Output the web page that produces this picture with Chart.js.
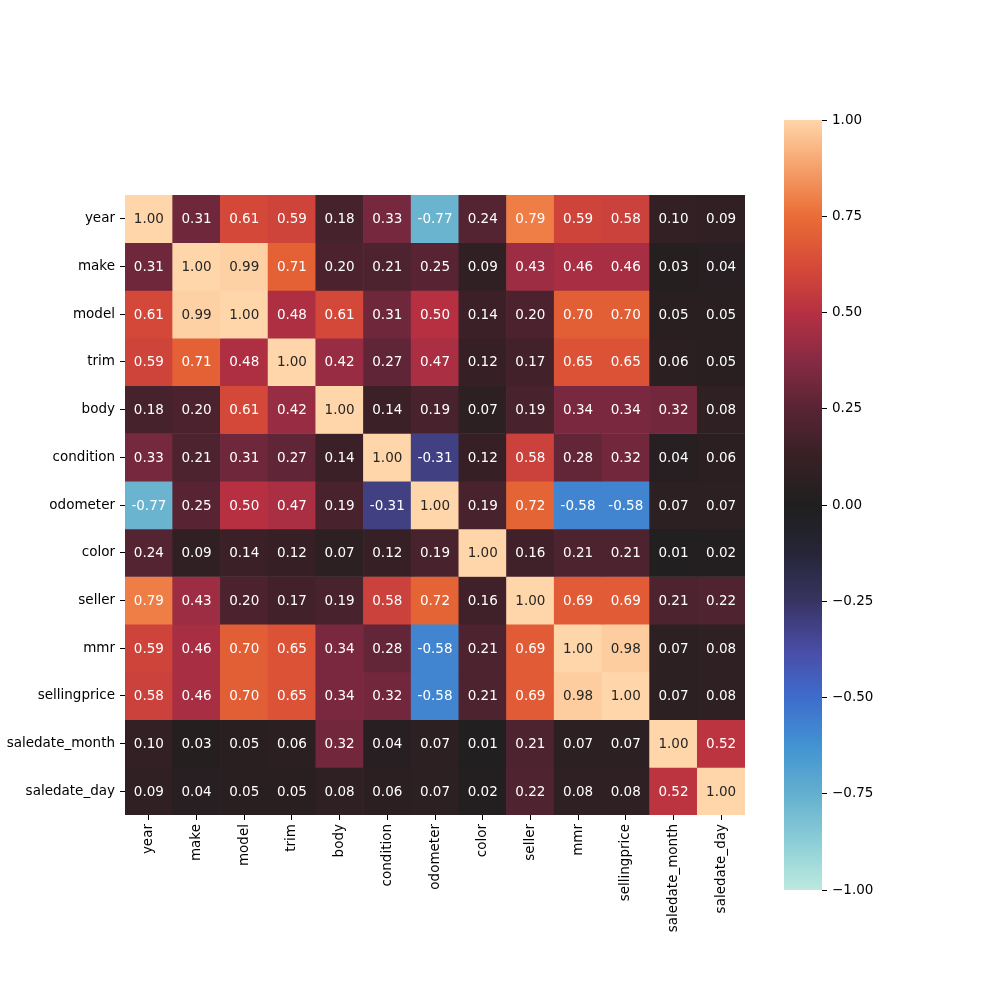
<!DOCTYPE html>
<html>
<head>
<meta charset="utf-8">
<script src="https://cdn.jsdelivr.net/npm/chart.js@4.4.1/dist/chart.umd.min.js"></script>
<style>
    body { margin: 0; background: #fff; }
    .wrap { position: relative; width: 1000px; height: 1000px; }
    .wrap canvas { position: absolute; left: 0; top: 0; }
</style>
</head>
<body>
<div class="wrap">
    <canvas id="heatmap" width="1000" height="1000"></canvas>
    <canvas id="colorbar" width="1000" height="1000"></canvas>
</div>
<script>
// column / row names
const variables = ["year", "make", "model", "trim", "body", "condition", "odometer", "color",
    "seller", "mmr", "sellingprice", "saledate_month", "saledate_day"];

// correlation rows
const rowYear = [1.00, 0.31, 0.61, 0.59, 0.18, 0.33, -0.77, 0.24, 0.79, 0.59, 0.58, 0.10, 0.09];
const rowMake = [0.31, 1.00, 0.99, 0.71, 0.20, 0.21, 0.25, 0.09, 0.43, 0.46, 0.46, 0.03, 0.04];
const rowModel = [0.61, 0.99, 1.00, 0.48, 0.61, 0.31, 0.50, 0.14, 0.20, 0.70, 0.70, 0.05, 0.05];
const rowTrim = [0.59, 0.71, 0.48, 1.00, 0.42, 0.27, 0.47, 0.12, 0.17, 0.65, 0.65, 0.06, 0.05];
const rowBody = [0.18, 0.20, 0.61, 0.42, 1.00, 0.14, 0.19, 0.07, 0.19, 0.34, 0.34, 0.32, 0.08];
const rowCondition = [0.33, 0.21, 0.31, 0.27, 0.14, 1.00, -0.31, 0.12, 0.58, 0.28, 0.32, 0.04, 0.06];
const rowOdometer = [-0.77, 0.25, 0.50, 0.47, 0.19, -0.31, 1.00, 0.19, 0.72, -0.58, -0.58, 0.07, 0.07];
const rowColor = [0.24, 0.09, 0.14, 0.12, 0.07, 0.12, 0.19, 1.00, 0.16, 0.21, 0.21, 0.01, 0.02];
const rowSeller = [0.79, 0.43, 0.20, 0.17, 0.19, 0.58, 0.72, 0.16, 1.00, 0.69, 0.69, 0.21, 0.22];
const rowMmr = [0.59, 0.46, 0.70, 0.65, 0.34, 0.28, -0.58, 0.21, 0.69, 1.00, 0.98, 0.07, 0.08];
const rowSellingprice = [0.58, 0.46, 0.70, 0.65, 0.34, 0.32, -0.58, 0.21, 0.69, 0.98, 1.00, 0.07, 0.08];
const rowSaledateMonth = [0.10, 0.03, 0.05, 0.06, 0.32, 0.04, 0.07, 0.01, 0.21, 0.07, 0.07, 1.00, 0.52];
const rowSaledateDay = [0.09, 0.04, 0.05, 0.05, 0.08, 0.06, 0.07, 0.02, 0.22, 0.08, 0.08, 0.52, 1.00];

const corr = [rowYear, rowMake, rowModel, rowTrim, rowBody, rowCondition, rowOdometer, rowColor,
    rowSeller, rowMmr, rowSellingprice, rowSaledateMonth, rowSaledateDay];

// colorbar ticks
const cbarTicks = [-1, -0.75, -0.5, -0.25, 0, 0.25, 0.5, 0.75, 1];

// rough icefire colormap stops
const cmap = [
    [-1.000, [189, 233, 222]],
    [-0.875, [140, 206, 215]],
    [-0.750, [99, 175, 207]],
    [-0.625, [66, 147, 210]],
    [-0.500, [62, 108, 205]],
    [-0.375, [74, 76, 165]],
    [-0.250, [55, 52, 98]],
    [-0.125, [38, 37, 55]],
    [0.000, [31, 31, 31]],
    [0.125, [55, 32, 37]],
    [0.250, [88, 36, 52]],
    [0.375, [135, 42, 68]],
    [0.500, [182, 48, 66]],
    [0.625, [215, 75, 55]],
    [0.750, [234, 108, 54]],
    [0.875, [245, 160, 105]],
    [1.000, [255, 213, 170]]
];

function colorAt(v) {
    v = Math.max(-1, Math.min(1, v));
    for (let i = 0; i < cmap.length - 1; i++) {
        let a = cmap[i], b = cmap[i + 1];
        if (v <= b[0]) {
            let t = (v - a[0]) / (b[0] - a[0]);
            return a[1].map((c, k) => Math.round(c + (b[1][k] - c) * t));
        }
    }
    return cmap[cmap.length - 1][1];
}

function rgb(arr) {
    return `rgb(${arr[0]},${arr[1]},${arr[2]})`;
}

function textColor(arr) {
    let lin = arr.map(c => {
        c = c / 255;
        return c <= 0.03928 ? c / 12.92 : Math.pow((c + 0.055) / 1.055, 2.4);
    });
    let lum = 0.2126 * lin[0] + 0.7152 * lin[1] + 0.0722 * lin[2];
    return lum > 0.408 ? "#262626" : "#ffffff";
}

const font = { family: "DejaVu Sans", size: 13.5 };

// every row becomes a floating bar dataset spanning [r, r+1]
const datasets = corr.map((row, r) => ({
    data: row.map(() => [r, r + 1]),
    backgroundColor: row.map(v => rgb(colorAt(v))),
    borderWidth: 0,
    grouped: false,
    barPercentage: 1,
    categoryPercentage: 1
}));

const annotate = {
    id: "annotate",
    afterDatasetsDraw(chart) {
        let ctx = chart.ctx;
        let xs = chart.scales.x;
        let ys = chart.scales.y;
        ctx.save();
        ctx.font = "13.5px 'DejaVu Sans'";
        ctx.textAlign = "center";
        ctx.textBaseline = "middle";
        corr.forEach((row, r) => {
            row.forEach((v, c) => {
                ctx.fillStyle = textColor(colorAt(v));
                ctx.fillText(v.toFixed(2), xs.getPixelForValue(c), ys.getPixelForValue(r + 0.5) + 1);
            });
        });
        ctx.restore();
    }
};

new Chart(document.getElementById("heatmap"), {
    type: "bar",
    data: { labels: variables, datasets: datasets },
    options: {
        responsive: false,
        animation: false,
        layout: { padding: { left: 0, top: 195, right: 255, bottom: 0 } },
        plugins: { legend: { display: false }, tooltip: { enabled: false } },
        scales: {
            x: {
                grid: { display: true, drawOnChartArea: false, offset: false, tickLength: 5, color: "#000", tickColor: "#000" },
                border: { display: false },
                ticks: { font: font, color: "#000", autoSkip: false, maxRotation: 90, minRotation: 90, padding: 4 },
                afterFit(scale) { scale.height = 185; }
            },
            y: {
                min: 0,
                max: variables.length,
                reverse: true,
                grid: { display: true, drawOnChartArea: false, tickLength: 5, color: "#000", tickColor: "#000" },
                border: { display: false },
                ticks: {
                    font: font,
                    color: "#000",
                    autoSkip: false,
                    padding: 5,
                    callback: value => variables[Math.floor(value)]
                },
                afterBuildTicks(scale) {
                    scale.ticks = variables.map((_, i) => ({ value: i + 0.5 }));
                },
                afterFit(scale) { scale.width = 125; }
            }
        }
    },
    plugins: [annotate]
});

// colorbar as a single floating bar from -1 to 1 with a gradient fill
function cbarGradient(context) {
    let chart = context.chart;
    let area = chart.chartArea;
    if (!area) return rgb(colorAt(0));
    let ys = chart.scales.y;
    let g = chart.ctx.createLinearGradient(0, ys.getPixelForValue(-1), 0, ys.getPixelForValue(1));
    for (let i = 0; i <= 64; i++) {
        let v = -1 + i * 2 / 64;
        g.addColorStop(i / 64, rgb(colorAt(v)));
    }
    return g;
}

new Chart(document.getElementById("colorbar"), {
    type: "bar",
    data: {
        labels: ["cbar"],
        datasets: [{
            data: [[-1, 1]],
            backgroundColor: cbarGradient,
            borderWidth: 0,
            barPercentage: 1,
            categoryPercentage: 1
        }]
    },
    options: {
        responsive: false,
        animation: false,
        layout: { padding: { left: 784, top: 120, right: 0, bottom: 110 } },
        plugins: { legend: { display: false }, tooltip: { enabled: false } },
        scales: {
            x: { display: false },
            y: {
                position: "right",
                min: -1,
                max: 1,
                grid: { display: true, drawOnChartArea: false, tickLength: 5, color: "#000", tickColor: "#000" },
                border: { display: false },
                ticks: {
                    font: font,
                    color: "#000",
                    padding: 5,
                    callback: value => value.toFixed(2).replace("-", "\u2212")
                },
                afterBuildTicks(scale) {
                    scale.ticks = cbarTicks.map(v => ({ value: v }));
                },
                afterFit(scale) { scale.width = 178; }
            }
        }
    }
});
</script>
</body>
</html>
